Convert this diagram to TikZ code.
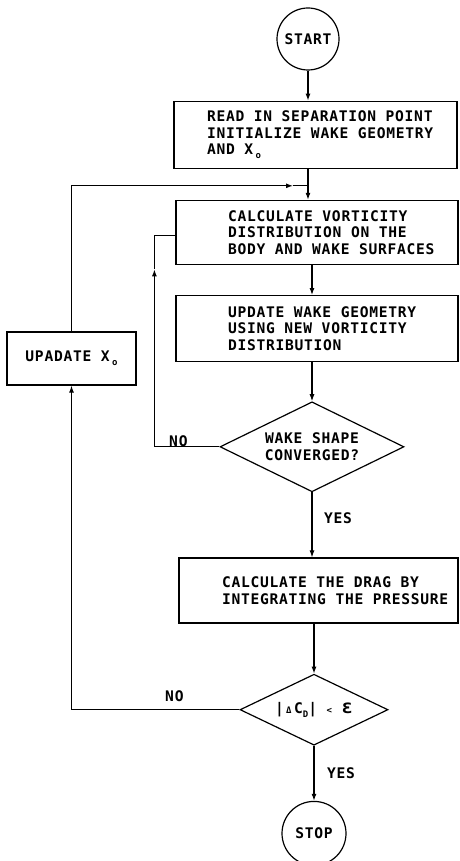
\documentclass[tikz,border=0pt]{standalone}
\usepackage{fontspec}
\usepackage{tikz}
\usetikzlibrary{positioning,shapes.geometric,arrows.meta}

\newfontfamily\flowfont[LetterSpace=5]{DejaVu Sans Mono}
\newcommand{\flowtext}{\flowfont\bfseries\fontsize{14.6}{16.5}\selectfont}
\newcommand{\boxlines}[3]{\hspace*{#1}\parbox{\dimexpr#2-#1\relax}{\raggedright #3}}
\newcommand{\subo}{\,\raisebox{-4pt}{\fontsize{9}{9}\selectfont o}}

\tikzset{
	procbox/.style={draw, rectangle, line width=1.2pt, inner xsep=0pt, inner ysep=0pt, font=\flowtext},
	decision/.style={draw, diamond, aspect=2, inner sep=0pt, line width=1.2pt, font=\flowtext, align=center},
	terminal/.style={draw, circle, inner sep=0pt, line width=1.2pt, font=\flowtext},
	lbl/.style={font=\flowtext}
}

\begin{document}
\begin{tikzpicture}[x=1pt, y=-1pt, >={Latex[length=7pt,width=5pt]}, line width=1.1pt]
		\useasboundingbox (0,0) rectangle (459,861);

		\node[terminal, minimum size=62pt](start) at (308,39){START};
		\node[procbox, minimum width=283pt, minimum height=67pt](readin)[below=30pt of start, xshift=7.5pt]{\boxlines{33pt}{283pt}{READ IN SEPARATION POINT\\INITIALIZE WAKE GEOMETRY\\AND X\subo}};
		\node[procbox, minimum width=282pt, minimum height=64pt](vort)[below=31pt of readin, xshift=1.5pt]{\boxlines{52pt}{282pt}{CALCULATE VORTICITY\\DISTRIBUTION ON THE\\BODY AND WAKE SURFACES}};
		\node[procbox, minimum width=282pt, minimum height=66pt](update)[below=30pt of vort]{\boxlines{52pt}{282pt}{UPDATE WAKE GEOMETRY\\USING NEW VORTICITY\\DISTRIBUTION}};
		\node[decision, minimum width=184pt, minimum height=90pt](wconv)[below=39pt of update, xshift=-5pt]{WAKE SHAPE\\CONVERGED?};
		\node[procbox, minimum width=279pt, minimum height=65pt](drag)[below=65pt of wconv, xshift=6.5pt]{\boxlines{43pt}{279pt}{CALCULATE THE DRAG BY\\INTEGRATING THE PRESSURE}};
		\node[decision, minimum width=148pt, minimum height=71pt](dcd)[below=50pt of drag, xshift=-4.5pt]{|\,{\small Δ}\,C\raisebox{-4pt}{\small D}| {\small<} {\fontsize{19}{19}\selectfont ε}};
		\node[terminal, minimum size=64pt](stop)[below=55pt of dcd]{STOP};
		\node[procbox, minimum width=129pt, minimum height=53pt](upx) at (71.5,358.5){UPADATE X\subo};

		\node[lbl](no1) at ([xshift=-41pt, yshift=6pt]wconv.west){NO};
		\node[lbl](yes1) at ([xshift=26pt, yshift=-26pt]wconv.south){YES};
		\node[lbl](no2) at ([xshift=-65pt, yshift=14pt]dcd.west){NO};
		\node[lbl](yes2) at ([xshift=27pt, yshift=-27pt]dcd.south){YES};

		\path (readin.south -| start) ++(0,17) coordinate (jn);
		\path (jn) ++(-15,0) coordinate (jtip);
		\path (vort.west) ++(-21,3) coordinate (lp);
		\path (lp) ++(0,34) coordinate (lptip);

		\draw[->] (start) -- (start |- readin.north);
		\draw (readin.south -| start) -- (jn);
		\draw[->] (jn) -- (start |- vort.north);
		\draw[->] (vort.south -| wconv) -- (wconv |- update.north);
		\draw[->] (update.south -| wconv) -- (wconv.north);
		\draw[->] (wconv.south) -- (wconv.south |- drag.north);
		\draw[->] (drag.south -| dcd) -- (dcd.north);
		\draw[->] (dcd.south) -- (stop.north);

		\draw[->] (wconv.west) -| (lptip);
		\draw (lptip) -- (lp) -- (lp -| vort.west);

		\draw[->] (dcd.west) -| (upx.south);
		\draw[->] (upx.north) |- (jtip);
		\draw (jtip) -- (jn);
	\end{tikzpicture}
\end{document}
